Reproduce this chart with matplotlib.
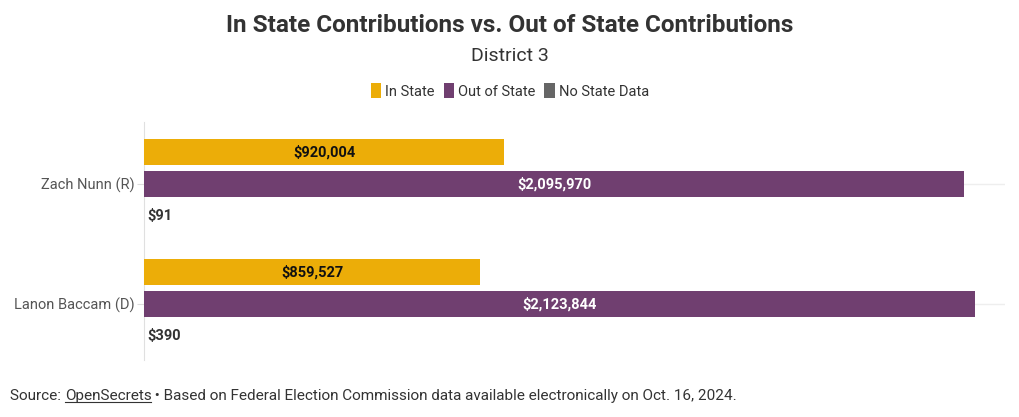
import matplotlib
matplotlib.use("Agg")
import matplotlib.pyplot as plt
from matplotlib.patches import Patch
import numpy as np

plt.rcParams['font.family'] = ['Roboto', 'DejaVu Sans']

# data
candidates = ["Zach Nunn (R)", "Lanon Baccam (D)"]
in_state = [920004, 859527]
out_state = [2095970, 2123844]
no_state = [91, 390]
series_names = ["In State", "Out of State", "No State Data"]
colors = ["#ECAD08", "#703F70", "#666666"]

fig = plt.figure(figsize=(10.2, 4.17), dpi=100)
ax = fig.add_axes([0.1412, 0.1367, 0.8441, 0.5707])

y = np.arange(len(candidates))
slot = 32 / 120
h = 26 / 120

ax.barh(y - slot, in_state, height=h, color=colors[0], zorder=3)
ax.barh(y, out_state, height=h, color=colors[1], zorder=3)
ax.barh(y + slot, no_state, height=h, color=colors[2], zorder=3)

for i in range(len(candidates)):
    ax.text(in_state[i] / 2, y[i] - slot, "${:,}".format(in_state[i]),
            ha='center', va='center', fontsize=10.5, fontweight='bold', color='#111111', zorder=4)
    ax.text(out_state[i] / 2, y[i], "${:,}".format(out_state[i]),
            ha='center', va='center', fontsize=10.5, fontweight='bold', color='white', zorder=4)
    ax.text(no_state[i] + 8000, y[i] + slot, "${:,}".format(no_state[i]),
            ha='left', va='center', fontsize=10.5, fontweight='bold', color='#333333', zorder=4)

ax.set_xlim(0, 2200000)
ax.set_ylim(1.467, -0.517)
ax.set_yticks(y)
ax.set_yticklabels(candidates, fontsize=10.5, color='#555555')
ax.tick_params(axis='y', length=5, color='#dddddd', pad=2)
ax.set_xticks([])
ax.grid(axis='y', color='#eeeeee', linewidth=1, zorder=0)
for s in ['top', 'right', 'bottom']:
    ax.spines[s].set_visible(False)
ax.spines['left'].set_color('#e0e0e0')

fig.text(0.5, 0.94, "In State Contributions vs. Out of State Contributions",
         ha='center', va='center', fontsize=17.5, fontweight='bold', color='#333333')
fig.text(0.5, 0.866, "District 3", ha='center', va='center', fontsize=14, color='#333333')

handles = [Patch(facecolor=c, edgecolor='none') for c in colors]
fig.legend(handles, series_names, loc='center', bbox_to_anchor=(0.5, 0.782), ncol=3,
           frameon=False, fontsize=10.5, handlelength=0.7, handleheight=1.2,
           handletextpad=0.3, columnspacing=0.6, labelcolor='#333333')

# source line with underlined link text
fig.canvas.draw()
r = fig.canvas.get_renderer()
src_y = 1 - 396 / 417
t1 = fig.text(10 / 1020, src_y, "Source: ", ha='left', va='center', fontsize=11, color='#333333')
bb = t1.get_window_extent(r)
t2 = fig.text(bb.x1 / 1020, src_y, "OpenSecrets", ha='left', va='center', fontsize=11, color='#333333')
bb2 = t2.get_window_extent(r)
fig.add_artist(plt.Line2D([bb2.x0 / 1020, bb2.x1 / 1020], [(bb2.y0 + 1) / 417] * 2,
                          color='#333333', linewidth=0.8))
fig.text(bb2.x1 / 1020, src_y,
         " \u2022 Based on Federal Election Commission data available electronically on Oct. 16, 2024.",
         ha='left', va='center', fontsize=11, color='#333333')

fig.savefig("out.png", dpi=100)
